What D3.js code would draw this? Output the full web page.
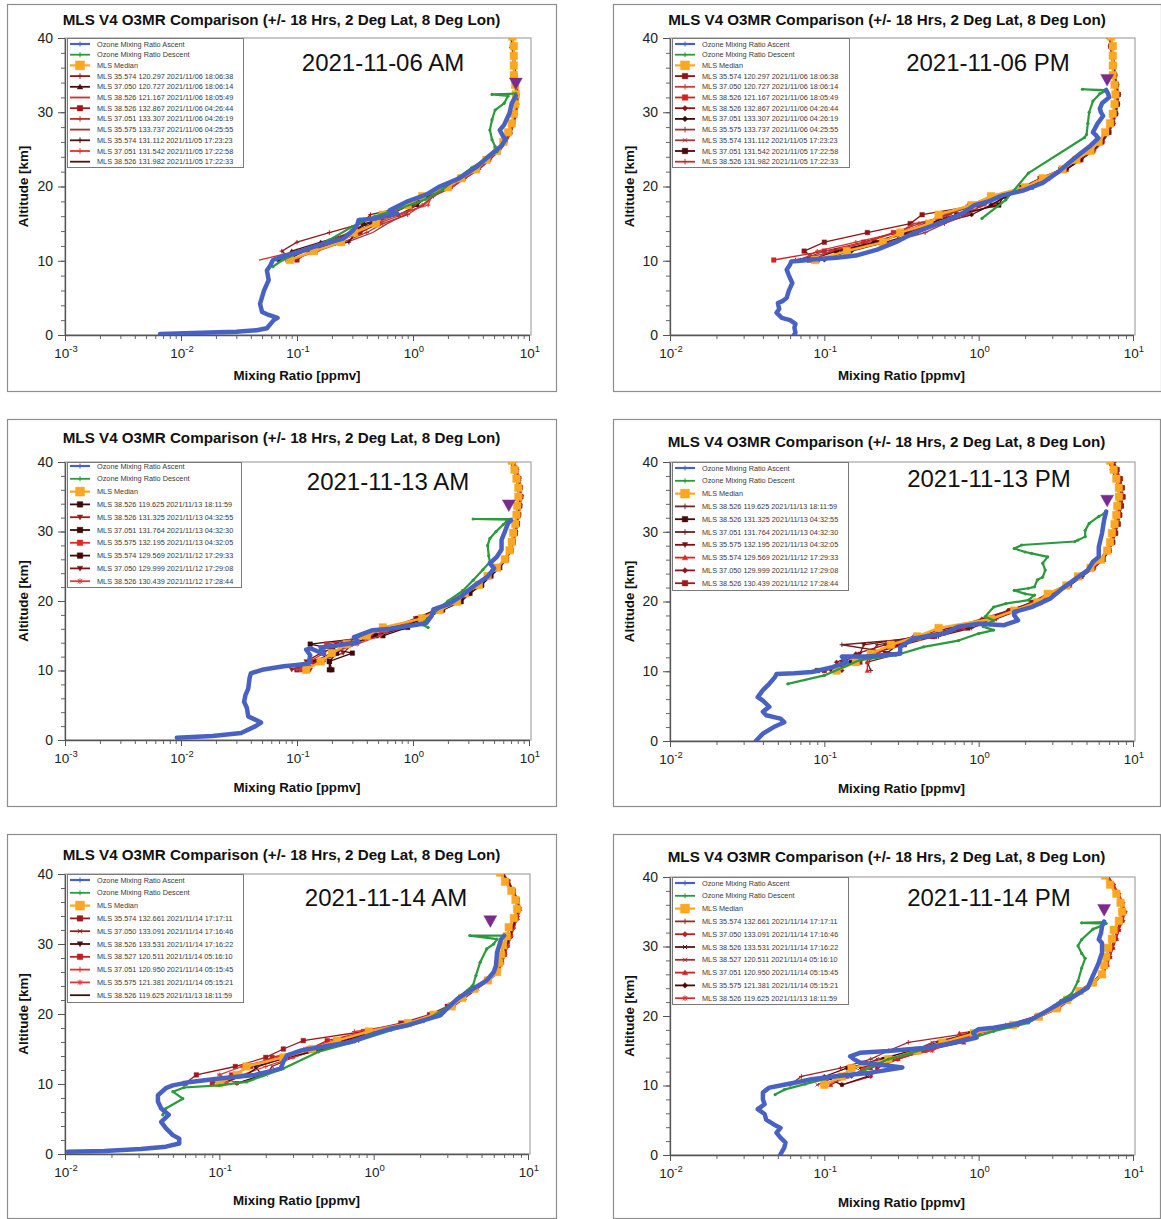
<!DOCTYPE html>
<html>
<head>
<meta charset="utf-8">
<script src="https://cdn.jsdelivr.net/npm/d3@7"></script>
<style>
body { margin: 0; background: #fff; }
svg text { font-family: "Liberation Sans", Arial, sans-serif; }
</style>
</head>
<body>
<svg id="chart" width="1161" height="1219"></svg>
<script>
// MLS pressure levels, as altitude [km]
var mlsAlt = [10.1, 11.3, 12.5, 13.8, 15.0, 16.2, 17.5, 18.7, 19.9, 21.1, 22.3, 23.6, 24.8, 26.0, 27.3, 28.5, 29.8, 31.1, 32.4, 33.7, 35.0, 36.3, 37.6, 38.9, 40.2];

// ---- 2021-11-06 MLS ----
var median06 = [0.087, 0.14, 0.24, 0.31, 0.48, 0.55, 0.9, 1.2, 2.0, 2.6, 3.5, 4.3, 5.3, 6.0, 6.6, 7.1, 7.4, 7.6, 7.7, 7.6, 7.4, 7.4, 7.4, 7.4, 7.2];
var mls06 = [
  [0.09, 0.074, 0.1, 0.19, 0.36, 0.43, 1.0, 1.4, 1.9, 2.5, 3.4, 4.4, 5.2, 6.1, 6.8, 7.3, 7.6, 7.8, 7.8, 7.6, 7.5, 7.5, 7.3, 7.2, 7.0],
  [0.07, 0.09, 0.16, 0.3, 0.38, 0.75, 1.1, 1.3, 2.1, 2.7, 3.6, 4.5, 5.4, 6.2, 6.9, 7.2, 7.5, 7.7, 7.9, 7.7, 7.6, 7.4, 7.3, 7.1, 7.0],
  [0.047, 0.1, 0.18, 0.28, 0.5, 0.8, 1.25, 1.5, 2.2, 2.8, 3.7, 4.6, 5.5, 6.3, 7.0, 7.4, 7.7, 7.9, 8.0, 7.8, 7.6, 7.5, 7.4, 7.3, 7.1],
  [0.1, 0.13, 0.22, 0.35, 0.5, 0.62, 0.95, 1.3, 1.9, 2.6, 3.5, 4.4, 5.3, 6.0, 6.7, 7.2, 7.5, 7.7, 7.8, 7.7, 7.5, 7.4, 7.3, 7.2, 7.1],
  [0.09, 0.15, 0.25, 0.4, 0.55, 0.9, 1.2, 1.5, 2.1, 2.8, 3.7, 4.6, 5.5, 6.3, 6.9, 7.3, 7.6, 7.9, 8.0, 7.8, 7.6, 7.5, 7.4, 7.3, 7.2],
  [0.065, 0.12, 0.27, 0.45, 0.6, 0.85, 1.05, 1.4, 2.0, 2.7, 3.6, 4.5, 5.6, 6.4, 7.0, 7.5, 7.8, 8.0, 8.1, 7.9, 7.7, 7.6, 7.5, 7.4, 7.2],
  [0.07, 0.1, 0.28, 0.32, 0.44, 0.6, 0.95, 1.3, 2.0, 2.6, 3.4, 4.3, 5.2, 6.0, 6.7, 7.2, 7.6, 7.8, 7.9, 7.8, 7.6, 7.5, 7.4, 7.2, 7.1],
  [0.08, 0.12, 0.21, 0.33, 0.47, 0.72, 1.35, 1.45, 2.1, 2.7, 3.6, 4.5, 5.4, 6.2, 6.9, 7.3, 7.7, 7.9, 8.0, 7.8, 7.6, 7.5, 7.3, 7.2, 7.1],
  [0.085, 0.11, 0.19, 0.29, 0.41, 0.65, 0.85, 1.25, 1.95, 2.6, 3.5, 4.4, 5.3, 6.1, 6.8, 7.3, 7.6, 7.8, 7.9, 7.7, 7.5, 7.4, 7.3, 7.2, 7.0]
];
var names06 = ["MLS 35.574 120.297 2021/11/06 18:06:38", "MLS 37.050 120.727 2021/11/06 18:06:14", "MLS 38.526 121.167 2021/11/06 18:05:49",
  "MLS 38.526 132.867 2021/11/06 04:26:44", "MLS 37.051 133.307 2021/11/06 04:26:19", "MLS 35.575 133.737 2021/11/06 04:25:55",
  "MLS 35.574 131.112 2021/11/05 17:23:23", "MLS 37.051 131.542 2021/11/05 17:22:58", "MLS 38.526 131.982 2021/11/05 17:22:33"];

// ---- 2021-11-13 MLS ----
var median13 = [0.12, 0.16, 0.2, 0.27, 0.4, 0.55, 1.2, 1.7, 2.4, 2.8, 3.7, 4.4, 5.3, 6.2, 6.8, 7.1, 7.3, 7.6, 7.8, 7.9, 8.1, 8.1, 7.8, 7.5, 7.1];
var mls13 = [
  [0.1, 0.14, 0.2, 0.22, 0.45, 0.7, 1.1, 1.6, 2.3, 2.9, 3.8, 4.5, 5.4, 6.3, 6.9, 7.3, 7.6, 7.9, 8.1, 8.3, 8.4, 8.3, 8.0, 7.6, 7.2],
  [0.09, 0.15, 0.25, 0.3, 0.5, 0.85, 1.15, 1.7, 2.5, 3.0, 3.8, 4.6, 5.5, 6.4, 7.0, 7.4, 7.7, 8.0, 8.2, 8.4, 8.6, 8.5, 8.2, 7.8, 7.4],
  [0.2, 0.19, 0.3, 0.13, 0.55, 0.9, 1.3, 1.8, 2.6, 3.1, 3.9, 4.7, 5.6, 6.4, 7.0, 7.3, 7.6, 7.9, 8.1, 8.2, 8.3, 8.2, 7.9, 7.6, 7.2],
  [0.11, 0.13, 0.17, 0.18, 0.42, 0.75, 1.2, 1.65, 2.4, 2.9, 3.7, 4.5, 5.4, 6.2, 6.8, 7.2, 7.5, 7.8, 8.0, 8.1, 8.2, 8.1, 7.8, 7.5, 7.1],
  [0.19, 0.19, 0.22, 0.28, 0.48, 0.8, 1.25, 1.75, 2.5, 3.0, 3.9, 4.6, 5.5, 6.3, 6.9, 7.3, 7.6, 7.9, 8.1, 8.3, 8.5, 8.4, 8.1, 7.7, 7.3],
  [0.13, 0.12, 0.16, 0.25, 0.38, 0.65, 1.05, 1.55, 2.3, 2.8, 3.6, 4.4, 5.3, 6.1, 6.7, 7.1, 7.4, 7.7, 7.9, 8.0, 8.1, 8.0, 7.7, 7.3, 6.9],
  [0.1, 0.17, 0.2, 0.33, 0.52, 0.72, 1.15, 1.6, 2.2, 2.8, 3.7, 4.5, 5.3, 6.2, 6.9, 7.3, 7.7, 8.0, 8.2, 8.4, 8.6, 8.5, 8.3, 7.9, 7.5]
];
var names13 = ["MLS 38.526 119.625 2021/11/13 18:11:59", "MLS 38.526 131.325 2021/11/13 04:32:55", "MLS 37.051 131.764 2021/11/13 04:32:30",
  "MLS 35.575 132.195 2021/11/13 04:32:05", "MLS 35.574 129.569 2021/11/12 17:29:33", "MLS 37.050 129.999 2021/11/12 17:29:08",
  "MLS 38.526 130.439 2021/11/12 17:28:44"];

// ---- 2021-11-14 MLS ----
var median14 = [0.1, 0.13, 0.15, 0.26, 0.4, 0.58, 0.93, 1.67, 2.45, 3.2, 3.75, 4.5, 5.5, 6.3, 6.5, 6.7, 6.9, 7.3, 7.5, 8.1, 8.5, 8.3, 7.8, 7.1, 6.6];
var mls14 = [
  [0.06, 0.071, 0.127, 0.2, 0.26, 0.35, 0.86, 1.5, 2.3, 3.0, 3.7, 4.5, 5.4, 6.2, 6.6, 7.0, 7.3, 7.6, 7.9, 8.4, 8.7, 8.5, 8.0, 7.4, 6.8],
  [0.13, 0.2, 0.22, 0.3, 0.45, 0.7, 1.0, 1.8, 2.5, 3.3, 3.9, 4.7, 5.6, 6.4, 6.8, 7.1, 7.4, 7.8, 8.1, 8.6, 8.9, 8.6, 8.1, 7.5, 6.9],
  [0.13, 0.19, 0.17, 0.28, 0.42, 0.62, 0.95, 1.7, 2.5, 3.2, 3.8, 4.6, 5.5, 6.3, 6.7, 7.0, 7.2, 7.6, 7.9, 8.3, 8.6, 8.4, 7.9, 7.2, 6.7],
  [0.09, 0.12, 0.16, 0.22, 0.38, 0.5, 0.9, 1.6, 2.4, 3.1, 3.7, 4.4, 5.4, 6.2, 6.6, 6.9, 7.2, 7.6, 7.9, 8.3, 8.6, 8.4, 7.9, 7.3, 6.7],
  [0.11, 0.14, 0.2, 0.3, 0.45, 0.8, 0.75, 1.75, 2.5, 3.3, 3.8, 4.6, 5.6, 6.4, 6.8, 7.1, 7.4, 7.8, 8.1, 8.5, 8.8, 8.5, 8.0, 7.4, 6.8],
  [0.13, 0.1, 0.14, 0.24, 0.36, 0.55, 0.88, 1.6, 2.4, 3.1, 3.7, 4.5, 5.4, 6.2, 6.6, 7.0, 7.3, 7.7, 8.0, 8.4, 8.7, 8.4, 7.9, 7.3, 6.7],
  [0.1, 0.15, 0.18, 0.27, 0.5, 0.65, 1.0, 1.7, 2.4, 3.1, 3.8, 4.5, 5.5, 6.3, 6.7, 7.0, 7.3, 7.7, 8.0, 8.4, 8.7, 8.5, 8.0, 7.4, 6.8]
];
var names14 = ["MLS 35.574 132.661 2021/11/14 17:17:11", "MLS 37.050 133.091 2021/11/14 17:16:46", "MLS 38.526 133.531 2021/11/14 17:16:22",
  "MLS 38.527 120.511 2021/11/14 05:16:10", "MLS 37.051 120.950 2021/11/14 05:15:45", "MLS 35.575 121.381 2021/11/14 05:15:21",
  "MLS 38.526 119.625 2021/11/13 18:11:59"];

// ---- sonde profiles [ppmv, km] ----
var asc06am = [[0.0066,0.15],[0.015,0.3],[0.03,0.45],[0.045,0.65],[0.055,0.9],[0.063,2.0],[0.068,2.3],[0.057,2.7],[0.05,3.1],[0.048,4.2],[0.052,6.0],[0.057,7.4],[0.055,8.7],[0.059,9.4],[0.062,10.1],[0.075,10.6],[0.094,11.0],[0.155,12.1],[0.25,13.0],[0.3,14.0],[0.33,14.8],[0.34,15.5],[0.48,15.7],[0.73,16.4],[0.63,16.8],[0.9,18.0],[1.3,18.9],[1.7,20.0],[2.5,21.1],[3.5,22.6],[4.6,24.2],[5.8,25.5],[6.3,26.4],[6.0,26.7],[5.6,27.6],[6.1,28.3],[6.8,29.9],[7.1,31.2],[7.7,32.2]];
var desc06am = [[7.7,32.5],[4.8,32.4],[6.6,32.2],[6.1,31.2],[5.1,30.3],[4.8,29.0],[4.6,27.6],[4.8,26.3],[5.1,25.4],[5.3,24.7],[4.3,23.8],[3.2,22.5],[2.5,21.3],[1.8,19.6],[1.3,18.3],[0.79,17.1],[0.47,16.0],[0.3,14.6],[0.19,12.8],[0.108,11.2],[0.075,10.1],[0.062,9.2]];
var burst06am = [7.7, 33.9];

var asc06pm = [[0.0635,0.0],[0.065,0.3],[0.064,1.0],[0.065,1.5],[0.06,2.0],[0.053,2.3],[0.049,3.0],[0.051,3.5],[0.05,4.3],[0.054,4.6],[0.057,5.0],[0.059,6.0],[0.062,7.0],[0.059,8.0],[0.057,8.8],[0.06,9.5],[0.061,9.9],[0.07,10.0],[0.087,10.2],[0.12,10.4],[0.16,10.7],[0.22,11.5],[0.29,12.5],[0.36,13.5],[0.47,14.5],[0.58,15.2],[0.68,15.8],[0.8,16.5],[0.94,17.5],[1.16,18.0],[1.43,18.8],[1.97,19.5],[2.6,20.5],[3.3,22.0],[3.9,23.3],[4.6,24.5],[5.3,25.5],[5.96,26.5],[5.7,27.0],[5.5,27.3],[5.9,28.5],[6.4,29.5],[6.2,30.0],[6.1,30.5],[6.3,31.2],[7.0,32.0],[6.9,32.5],[6.7,33.0]];
var desc06pm = [[6.7,33.0],[4.7,33.1],[6.7,32.9],[6.1,32.5],[5.5,31.5],[5.2,30.0],[5.1,28.5],[5.0,27.0],[4.85,26.6],[2.1,21.8],[1.5,18.2],[1.05,15.7]];
var burst06pm = [6.8, 34.4];

var asc13am = [[0.0092,0.33],[0.0187,0.57],[0.033,1.0],[0.044,2.0],[0.049,2.5],[0.044,2.9],[0.038,3.4],[0.037,4.6],[0.035,5.5],[0.036,6.5],[0.038,7.4],[0.039,8.9],[0.04,9.6],[0.05,10.1],[0.077,10.6],[0.1,10.8],[0.126,11.0],[0.13,12.2],[0.12,13.0],[0.13,13.2],[0.17,12.4],[0.16,13.3],[0.22,13.6],[0.34,14.1],[0.31,14.8],[0.45,15.8],[0.64,16.0],[1.0,16.5],[1.3,16.8],[1.45,17.9],[1.5,18.8],[2.0,19.5],[2.6,20.7],[3.5,22.4],[4.4,23.5],[5.0,24.7],[4.6,25.4],[5.3,26.4],[5.8,27.4],[5.8,28.8],[6.2,30.0],[6.6,31.2],[7.0,31.6]];
var desc13am = [[7.0,31.8],[3.3,31.8],[6.6,31.7],[6.0,31.0],[5.2,30.0],[4.6,29.0],[4.4,28.0],[4.5,26.5],[4.6,25.6],[4.0,24.5],[3.3,23.0],[2.7,21.5],[2.0,20.0],[1.7,19.0],[1.45,18.0],[1.25,17.0],[1.2,16.6],[1.35,16.2]];
var burst13am = [6.7, 33.8];

var asc13pm = [[0.036,0.0],[0.04,1.05],[0.047,2.0],[0.055,2.7],[0.052,3.2],[0.042,3.7],[0.04,4.2],[0.044,4.9],[0.04,5.8],[0.037,6.3],[0.04,7.3],[0.044,8.2],[0.048,9.2],[0.049,9.6],[0.064,9.7],[0.083,9.9],[0.113,10.6],[0.14,11.3],[0.13,12.1],[0.19,12.1],[0.31,12.5],[0.31,13.5],[0.38,14.7],[0.6,15.4],[0.74,16.4],[1.0,16.8],[1.46,16.6],[1.8,17.3],[1.7,18.0],[1.7,18.5],[2.2,19.2],[2.9,20.4],[3.6,22.1],[4.4,23.5],[5.1,24.5],[5.5,25.7],[6.0,26.4],[6.0,27.8],[6.3,29.8],[6.5,31.7],[6.7,32.9]];
var desc13pm = [[6.5,32.6],[6.0,32.2],[5.2,31.2],[4.9,30.2],[4.9,29.3],[4.4,28.8],[4.2,28.6],[1.9,28.1],[1.7,27.6],[2.0,27.1],[2.2,26.9],[2.8,26.4],[2.6,25.5],[2.7,24.5],[2.6,23.5],[2.4,23.1],[2.3,22.1],[2.1,21.9],[1.7,21.6],[2.0,21.1],[2.3,20.9],[2.1,20.2],[1.5,19.7],[1.25,19.2],[1.1,17.8],[1.25,17.3],[1.07,16.4],[1.25,15.9],[1.0,15.4],[0.74,14.4],[0.44,13.5],[0.29,12.3],[0.17,11.6],[0.1,9.4],[0.058,8.2]];
var burst13pm = [6.8, 34.5];

var asc14am = [[0.0104,0.33],[0.018,0.43],[0.031,0.7],[0.045,1.05],[0.055,1.5],[0.055,2.2],[0.05,2.7],[0.045,3.7],[0.042,4.6],[0.047,5.6],[0.042,6.5],[0.04,7.5],[0.04,8.4],[0.045,9.4],[0.05,9.8],[0.065,10.3],[0.1,10.8],[0.17,11.3],[0.25,12.2],[0.26,13.2],[0.275,14.1],[0.34,14.8],[0.52,15.5],[0.71,16.0],[0.93,16.96],[1.28,17.9],[1.67,18.4],[2.1,19.1],[2.7,19.8],[3.0,20.8],[3.5,22.2],[4.4,23.6],[5.4,24.8],[6.0,26.0],[6.2,26.9],[6.3,28.8],[6.7,30.7],[7.0,31.2]];
var desc14am = [[7.0,31.2],[4.2,31.2],[6.3,30.7],[6.0,30.0],[5.4,29.3],[4.9,27.4],[4.6,25.5],[4.4,24.1],[3.6,22.5],[2.9,20.8],[2.1,18.9],[1.3,17.7],[0.75,16.0],[0.44,14.6],[0.26,12.2],[0.15,10.3],[0.1,9.8],[0.059,9.5],[0.05,8.9],[0.058,7.9],[0.045,6.5],[0.043,5.6]];
var burst14am = [5.7, 33.3];

var asc14pm = [[0.052,0.1],[0.055,1.05],[0.056,1.8],[0.052,2.5],[0.049,3.2],[0.052,3.9],[0.047,4.4],[0.042,5.1],[0.041,5.9],[0.037,6.6],[0.041,7.3],[0.04,8.0],[0.04,9.0],[0.044,9.7],[0.049,9.9],[0.064,10.4],[0.083,10.9],[0.125,11.4],[0.2,11.85],[0.32,12.6],[0.21,13.1],[0.17,13.3],[0.155,13.8],[0.147,14.2],[0.17,14.7],[0.26,14.95],[0.44,15.4],[0.6,15.9],[0.78,16.4],[0.97,16.9],[0.92,17.6],[1.0,18.1],[1.25,18.3],[1.7,18.8],[2.2,19.5],[2.75,20.7],[3.4,21.9],[4.0,22.6],[5.1,24.1],[5.5,25.8],[5.8,26.9],[6.0,27.7],[6.3,29.1],[6.3,30.5],[6.0,31.0],[6.2,31.9],[6.3,32.9],[6.5,33.6]];
var desc14pm = [[6.5,33.5],[4.65,33.4],[6.7,33.3],[6.3,33.0],[5.5,32.5],[4.65,31.0],[4.4,30.1],[4.65,29.0],[4.9,28.3],[4.65,26.9],[4.4,25.0],[4.0,23.2],[3.4,22.2],[2.75,20.7],[2.1,19.0],[1.25,17.8],[0.74,16.2],[0.44,15.2],[0.26,13.8],[0.17,11.9],[0.1,10.9],[0.075,10.2],[0.055,9.4],[0.048,8.7]];
var burst14pm = [6.5, 35.3];

// marker/colour for each MLS series, per panel (Excel auto styles)
var sty1 = [["plus","#8c1c1c"],["tri","#4a0d0d"],["none","#d62a2a"],["square","#9c1a1a"],["plus","#b83030"],["none","#9b3535"],["plus","#4d1010"],["plus","#e03333"],["none","#4a1515"]];
var sty2 = [["square","#8c1515"],["plus","#c83c3c"],["square","#d82020"],["diamond","#8a1212"],["diamond","#3d0a0a"],["plus","#9b3a3a"],["x","#9b3a3a"],["square","#4a0a0a"],["plus","#c03030"]];
var sty3 = [["square","#3d0a0a"],["tridown","#a01c1c"],["square","#3d0a0a"],["square","#e02828"],["square","#3d0a0a"],["tridown","#7a1414"],["star","#d04040"]];
var sty4 = [["plus","#6b2a2a"],["square","#4a0a0a"],["plus","#6b2020"],["tridown","#7a1010"],["tri","#e82020"],["diamond","#8c1414"],["square","#9c1c1c"]];
var sty5 = [["square","#9c1a1a"],["x","#8c2020"],["tridown","#4a0a0a"],["square","#c02020"],["plus","#e03030"],["star","#e03838"],["none","#4a0a0a"]];
var sty6 = [["plus","#9c2a2a"],["diamond","#c01c1c"],["x","#5a1414"],["x","#a03030"],["tri","#d02020"],["diamond","#4a0a0a"],["star","#d83030"]];

var blue = "#4862c4", green = "#2b9a3c", orange = "#fba722", purple = "#7b2b8d";
var titleText = "MLS V4 O3MR Comparison (+/- 18 Hrs, 2 Deg Lat, 8 Deg Lon)";

var panels = [
  {id: 1, frame: [7, 4, 549, 387], x0: 65, x1: 529, yT: 38, yB: 335, xmin: 1e-3, titleY: 25, xtitleY: 380,
   date: "2021-11-06 AM", dateX: 383, dateY: 71, leg: [67, 38, 176, 129], row0: 44, step: 10.7,
   asc: asc06am, desc: desc06am, med: median06, mls: mls06, names: names06, sty: sty1, burst: burst06am},
  {id: 2, frame: [613, 4, 548, 387], x0: 670, x1: 1133, yT: 38, yB: 335, xmin: 1e-2, titleY: 25, xtitleY: 380,
   date: "2021-11-06 PM", dateX: 988, dateY: 71, leg: [672, 38, 177, 129], row0: 44, step: 10.7,
   asc: asc06pm, desc: desc06pm, med: median06, mls: mls06, names: names06, sty: sty2, burst: burst06pm},
  {id: 3, frame: [7, 419, 549, 387], x0: 65, x1: 529, yT: 462, yB: 740, xmin: 1e-3, titleY: 443, xtitleY: 792,
   date: "2021-11-13 AM", dateX: 388, dateY: 490, leg: [67, 462, 174, 125], row0: 466, step: 12.8,
   asc: asc13am, desc: desc13am, med: median13, mls: mls13, names: names13, sty: sty3, burst: burst13am},
  {id: 4, frame: [613, 419, 547, 387], x0: 670, x1: 1133, yT: 462, yB: 741, xmin: 1e-2, titleY: 447, xtitleY: 793,
   date: "2021-11-13 PM", dateX: 989, dateY: 487, leg: [672, 462, 176, 128], row0: 468, step: 12.8,
   asc: asc13pm, desc: desc13pm, med: median13, mls: mls13, names: names13, sty: sty4, burst: burst13pm},
  {id: 5, frame: [7, 834, 549, 384], x0: 65, x1: 528, yT: 874, yB: 1154, xmin: 1e-2, titleY: 860, xtitleY: 1205,
   date: "2021-11-14 AM", dateX: 386, dateY: 906, leg: [67, 874, 176, 128], row0: 880, step: 12.8,
   asc: asc14am, desc: desc14am, med: median14, mls: mls14, names: names14, sty: sty5, burst: burst14am},
  {id: 6, frame: [613, 834, 547, 384], x0: 670, x1: 1133, yT: 877, yB: 1155, xmin: 1e-2, titleY: 862, xtitleY: 1207,
   date: "2021-11-14 PM", dateX: 989, dateY: 906, leg: [672, 877, 176, 127], row0: 883, step: 12.8,
   asc: asc14pm, desc: desc14pm, med: median14, mls: mls14, names: names14, sty: sty6, burst: burst14pm}
];

var svg = d3.select("#chart");
var defs = svg.append("defs");

function drawMarker(g, type, cx, cy, color, s) {
    if (type === "none") return;
    var d, filled = true;
    if (type === "square") d = "M" + (-s) + "," + (-s) + "h" + (2 * s) + "v" + (2 * s) + "h" + (-2 * s) + "z";
    else if (type === "tri") d = "M0," + (-s) + "L" + s + "," + (s * 0.8) + "L" + (-s) + "," + (s * 0.8) + "z";
    else if (type === "tridown") d = "M0," + s + "L" + s + "," + (-s * 0.8) + "L" + (-s) + "," + (-s * 0.8) + "z";
    else if (type === "diamond") d = "M0," + (-s) + "L" + s + ",0L0," + s + "L" + (-s) + ",0z";
    else {
        filled = false;
        var p = "M" + (-s) + ",0H" + s + "M0," + (-s) + "V" + s;
        var k = s * 0.75;
        var xx = "M" + (-k) + "," + (-k) + "L" + k + "," + k + "M" + (-k) + "," + k + "L" + k + "," + (-k);
        d = type === "plus" ? p : type === "x" ? xx : p + xx;
    }
    g.append("path")
        .attr("transform", "translate(" + cx + "," + cy + ")")
        .attr("d", d)
        .attr("fill", filled ? color : "none")
        .attr("stroke", color)
        .attr("stroke-width", filled ? 0.4 : 1);
}

function drawPanel(p) {
    var g = svg.append("g");
    var f = p.frame;
    g.append("rect").attr("x", f[0] + 0.5).attr("y", f[1] + 0.5).attr("width", f[2]).attr("height", f[3])
        .attr("fill", "none").attr("stroke", "#8e8e8e").attr("stroke-width", 1.2);

    var x = d3.scaleLog().domain([p.xmin, 10]).range([p.x0, p.x1]);
    var y = d3.scaleLinear().domain([0, 40]).range([p.yB, p.yT]);

    defs.append("clipPath").attr("id", "clip" + p.id).append("rect")
        .attr("x", p.x0).attr("y", p.yT).attr("width", p.x1 - p.x0).attr("height", p.yB - p.yT);

    // plot area border
    g.append("rect").attr("x", p.x0).attr("y", p.yT).attr("width", p.x1 - p.x0 + 2).attr("height", p.yB - p.yT)
        .attr("fill", "none").attr("stroke", "#a5a5a5").attr("stroke-width", 1.2);

    // y axis
    g.append("g").attr("transform", "translate(" + p.x0 + ",0)")
        .call(d3.axisLeft(y).tickValues(d3.range(0, 41, 2)).tickSize(4).tickFormat(""))
        .call(function (a) { a.select(".domain").remove(); a.selectAll("line").attr("stroke", "#666"); });
    var ya = g.append("g").attr("transform", "translate(" + p.x0 + ",0)")
        .call(d3.axisLeft(y).tickValues([0, 10, 20, 30, 40]).tickSize(7).tickPadding(5).tickSizeOuter(0));
    ya.select(".domain").attr("stroke", "#555").attr("stroke-width", 1.3);
    ya.selectAll("line").attr("stroke", "#555");
    ya.selectAll("text").attr("font-size", 14).attr("fill", "#222").attr("font-family", "Liberation Sans, Arial, sans-serif");

    // x axis
    var decades = [], minors = [];
    for (var e = Math.round(Math.log10(p.xmin)); e <= 1; e++) {
        decades.push(Math.pow(10, e));
        if (e < 1) for (var m = 2; m <= 9; m++) minors.push(m * Math.pow(10, e));
    }
    g.append("g").attr("transform", "translate(0," + p.yB + ")")
        .call(d3.axisBottom(x).tickValues(minors).tickSize(4).tickFormat(""))
        .call(function (a) { a.select(".domain").remove(); a.selectAll("line").attr("stroke", "#666"); });
    var xa = g.append("g").attr("transform", "translate(0," + p.yB + ")")
        .call(d3.axisBottom(x).tickValues(decades).tickSize(6).tickSizeOuter(0).tickFormat(""));
    xa.select(".domain").attr("stroke", "#555").attr("stroke-width", 1.3);
    xa.selectAll("line").attr("stroke", "#555");
    decades.forEach(function (v) {
        var t = g.append("text").attr("x", x(v) + 1).attr("y", p.yB + 23)
            .attr("text-anchor", "middle").attr("fill", "#222").attr("font-size", 13.5);
        t.append("tspan").text("10");
        t.append("tspan").attr("dy", -6).attr("font-size", 9.5).text(String(Math.round(Math.log10(v))));
    });

    // titles
    g.append("text").attr("x", f[0] + f[2] / 2).attr("y", p.titleY).attr("text-anchor", "middle")
        .attr("font-size", 15.2).attr("font-weight", "bold").attr("fill", "#111").text(titleText);
    g.append("text").attr("x", (p.x0 + p.x1) / 2).attr("y", p.xtitleY).attr("text-anchor", "middle")
        .attr("font-size", 13.3).attr("font-weight", "bold").attr("fill", "#111").text("Mixing Ratio [ppmv]");
    g.append("text").attr("transform", "translate(" + (f[0] + 21) + "," + ((p.yT + p.yB) / 2) + ") rotate(-90)")
        .attr("text-anchor", "middle").attr("font-size", 13.3).attr("font-weight", "bold").attr("fill", "#111")
        .text("Altitude [km]");

    // data
    var line = d3.line().x(function (d) { return x(d[0]); }).y(function (d) { return y(d[1]); });
    var plot = g.append("g").attr("clip-path", "url(#clip" + p.id + ")");

    p.mls.forEach(function (vals, i) {
        var pts = mlsAlt.map(function (a, j) { return [vals[j], a]; });
        var st = p.sty[i];
        plot.append("path").datum(pts).attr("d", line).attr("fill", "none")
            .attr("stroke", st[1]).attr("stroke-width", 1.3);
        pts.forEach(function (d) { drawMarker(plot, st[0], x(d[0]), y(d[1]), st[1], 2.3); });
    });

    var med = mlsAlt.map(function (a, j) { return [p.med[j], a]; });
    plot.append("path").datum(med).attr("d", line).attr("fill", "none")
        .attr("stroke", orange).attr("stroke-width", 2.5);
    med.forEach(function (d) { drawMarker(plot, "square", x(d[0]), y(d[1]), orange, 3.8); });

    plot.append("path").datum(p.desc).attr("d", line).attr("fill", "none")
        .attr("stroke", green).attr("stroke-width", 2.2).attr("stroke-linejoin", "round");
    p.desc.forEach(function (d) {
        plot.append("circle").attr("cx", x(d[0])).attr("cy", y(d[1])).attr("r", 1.6).attr("fill", green);
    });

    plot.append("path").datum(p.asc).attr("d", line).attr("fill", "none")
        .attr("stroke", blue).attr("stroke-width", 4.5).attr("stroke-linejoin", "round").attr("stroke-linecap", "round");

    drawMarker(plot, "tridown", x(p.burst[0]), y(p.burst[1]), purple, 6.5);

    // date label
    g.append("text").attr("x", p.dateX).attr("y", p.dateY).attr("text-anchor", "middle")
        .attr("font-family", "Lato, 'Open Sans', sans-serif").attr("font-size", 24).attr("fill", "#111")
        .text(p.date);

    // legend
    var L = p.leg;
    var lg = g.append("g");
    lg.append("rect").attr("x", L[0] + 0.5).attr("y", L[1] + 0.5).attr("width", L[2]).attr("height", L[3])
        .attr("fill", "#fff").attr("stroke", "#7a7a7a").attr("stroke-width", 1);
    var entries = [
        {name: "Ozone Mixing Ratio Ascent", c: blue, m: "plus", w: 2.2, s: 2.5},
        {name: "Ozone Mixing Ratio Descent", c: green, m: "plus", w: 1.8, s: 2.5},
        {name: "MLS Median", c: orange, m: "square", w: 2.2, s: 4.5}
    ];
    p.names.forEach(function (n, i) {
        entries.push({name: n, c: p.sty[i][1], m: p.sty[i][0], w: 1.8, s: 2.8});
    });
    entries.forEach(function (en, i) {
        var ry = p.row0 + i * p.step;
        lg.append("line").attr("x1", L[0] + 3).attr("x2", L[0] + 23).attr("y1", ry).attr("y2", ry)
            .attr("stroke", en.c).attr("stroke-width", en.w);
        drawMarker(lg, en.m, L[0] + 13, ry, en.c, en.s);
        lg.append("text").attr("x", L[0] + 30).attr("y", ry + 2.5).attr("font-size", 7.3)
            .attr("fill", "#3a3a3a").text(en.name);
    });
}

panels.forEach(drawPanel);
</script>
</body>
</html>
